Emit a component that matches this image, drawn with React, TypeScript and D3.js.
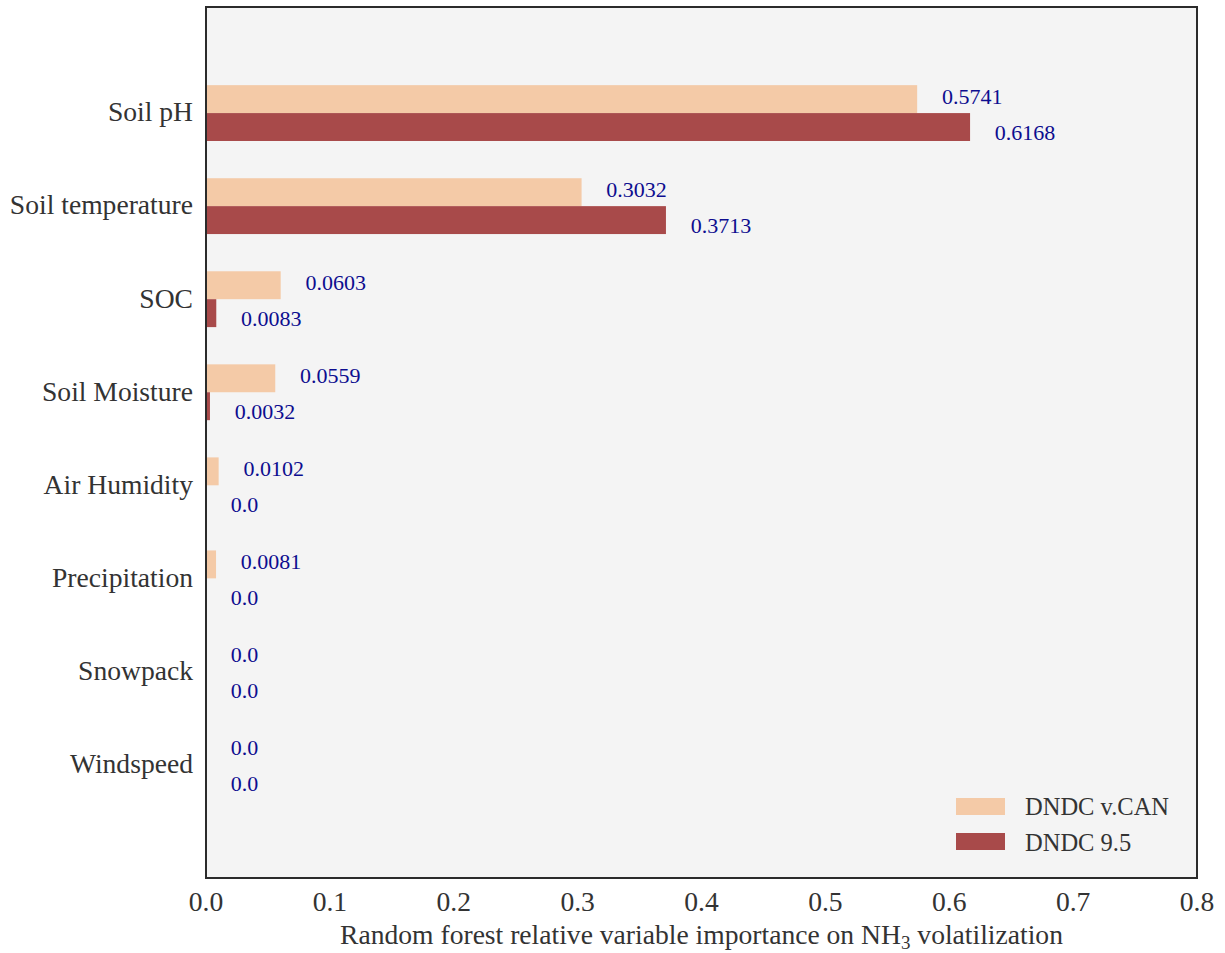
import React from "react";
import * as d3 from "d3";

const categories = [
  "Soil pH",
  "Soil temperature",
  "SOC",
  "Soil Moisture",
  "Air Humidity",
  "Precipitation",
  "Snowpack",
  "Windspeed",
];
const dndcCan = [0.5741, 0.3032, 0.0603, 0.0559, 0.0102, 0.0081, 0.0, 0.0];
const dndc95 = [0.6168, 0.3713, 0.0083, 0.0032, 0.0, 0.0, 0.0, 0.0];
const xTicks = [0, 0.1, 0.2, 0.3, 0.4, 0.5, 0.6, 0.7, 0.8];
const seriesNames = ["DNDC v.CAN", "DNDC 9.5"];

const W = 1225;
const H = 953;
const left = 206;
const right = 1197;
const top = 7;
const bottom = 878;

const colorCan = "#f4caa7";
const colorDndc = "#a84a4a";
const labelColor = "#0d0d8f";
const font = "'Liberation Serif', 'Times New Roman', serif";

export default function App() {
  const x = d3.scaleLinear().domain([0, 0.8]).range([left, right]);
  // category index -> band center; extra room above/below first and last bar
  const y = d3.scaleLinear().domain([-1.14, categories.length - 1 + 1.22]).range([top, bottom]);
  const bandH = y(0.3) - y(0);

  return (
    <svg width={W} height={H} style={{ position: "absolute", left: 0, top: 0 }} fontFamily={font}>
      <rect x={left} y={top} width={right - left} height={bottom - top} fill="#f4f4f4" />
      {categories.map((c, i) => {
        const cy = y(i);
        return (
          <g key={c}>
            <rect x={x(0)} y={cy - bandH} width={x(dndcCan[i]) - x(0)} height={bandH} fill={colorCan} />
            <rect x={x(0)} y={cy} width={x(dndc95[i]) - x(0)} height={bandH} fill={colorDndc} />
            <text x={x(dndcCan[i] + 0.02)} y={cy - 14.5} dominantBaseline="middle" fontSize={22} fill={labelColor}>
              {dndcCan[i] === 0 ? "0.0" : String(dndcCan[i])}
            </text>
            <text x={x(dndc95[i] + 0.02)} y={cy + 21.5} dominantBaseline="middle" fontSize={22} fill={labelColor}>
              {dndc95[i] === 0 ? "0.0" : String(dndc95[i])}
            </text>
            <text x={193} y={cy + 2} textAnchor="end" dominantBaseline="middle" fontSize={27.6} fill="#333">
              {c}
            </text>
          </g>
        );
      })}
      <rect x={left} y={top} width={right - left} height={bottom - top} fill="none" stroke="#2b2b2b" strokeWidth={2} />
      {xTicks.map((t) => (
        <text key={t} x={x(t)} y={905} textAnchor="middle" dominantBaseline="middle" fontSize={27.6} fill="#333">
          {t.toFixed(1)}
        </text>
      ))}
      <text x={(left + right) / 2} y={938} textAnchor="middle" dominantBaseline="middle" fontSize={27.6} fill="#333">
        Random forest relative variable importance on NH
        <tspan fontSize={19} dy={7}>3</tspan>
        <tspan dy={-7}> volatilization</tspan>
      </text>
      {seriesNames.map((s, i) => (
        <g key={s}>
          <rect x={956} y={798 + i * 35} width={49} height={17} fill={i === 0 ? colorCan : colorDndc} />
          <text x={1025} y={809 + i * 36} dominantBaseline="middle" fontSize={24.5} fill="#333">
            {s}
          </text>
        </g>
      ))}
    </svg>
  );
}
